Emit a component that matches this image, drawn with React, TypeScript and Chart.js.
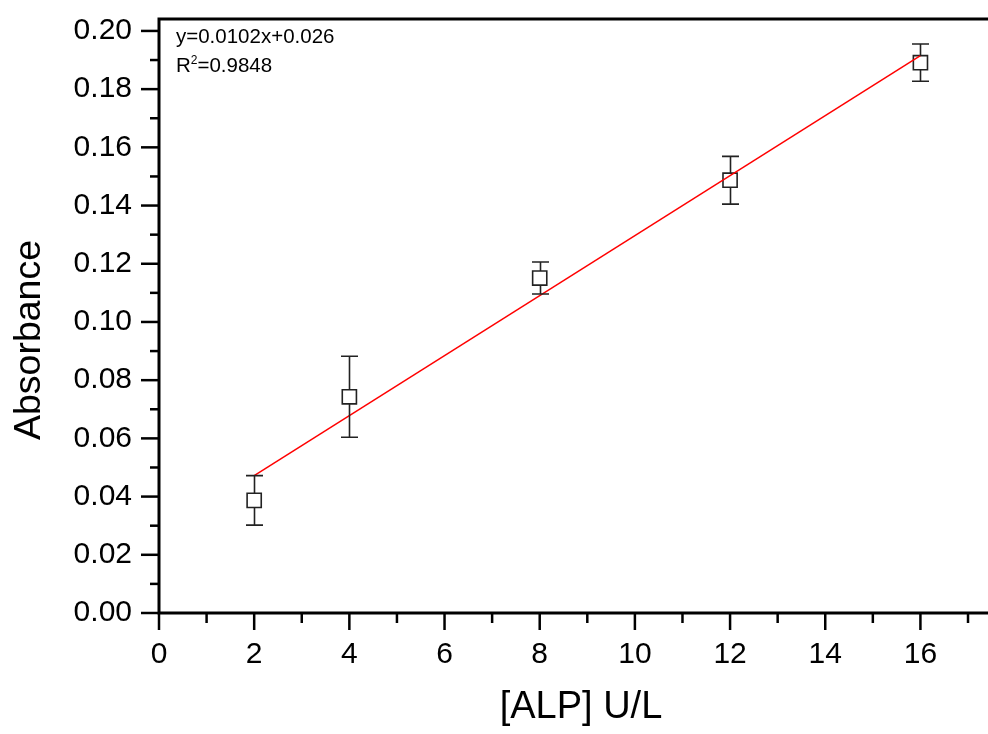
import React, { useEffect, useRef } from "react";
import { Chart, registerables } from "chart.js";

Chart.register(...registerables);

const concentrations = [2, 4, 8, 12, 16];
const absorbance = [0.0387, 0.0743, 0.1151, 0.1487, 0.1891];
const errors = [0.0085, 0.0139, 0.0055, 0.0082, 0.0064];
const fitX = [2, 16];
const fitY = [0.0472, 0.1915];
const equationText = "y=0.0102x+0.026";
const r2Value = "=0.9848";
const xTitle = "[ALP] U/L";
const yTitle = "Absorbance";

const FONT = "'Liberation Sans', Arial, Helvetica, sans-serif";

const decorPlugin = {
  id: "decor",
  afterDatasetsDraw(chart: any) {
    const ctx = chart.ctx;
    const xs = chart.scales.x;
    const ys = chart.scales.y;
    ctx.save();
    ctx.strokeStyle = "#222";
    ctx.lineWidth = 1.6;
    const half = 7;
    const cap = 8.5;
    for (let i = 0; i < concentrations.length; i++) {
      const px = Math.round(xs.getPixelForValue(concentrations[i])) + 0.5;
      const py = ys.getPixelForValue(absorbance[i]);
      const top = ys.getPixelForValue(absorbance[i] + errors[i]);
      const bot = ys.getPixelForValue(absorbance[i] - errors[i]);
      ctx.beginPath();
      ctx.moveTo(px, py - half);
      ctx.lineTo(px, top);
      ctx.moveTo(px - cap, top);
      ctx.lineTo(px + cap, top);
      ctx.moveTo(px, py + half);
      ctx.lineTo(px, bot);
      ctx.moveTo(px - cap, bot);
      ctx.lineTo(px + cap, bot);
      ctx.stroke();
    }
    ctx.restore();
  },
  afterDraw(chart: any) {
    const ctx = chart.ctx;
    const xs = chart.scales.x;
    const ys = chart.scales.y;
    const area = chart.chartArea;
    ctx.save();
    ctx.strokeStyle = "#000";
    ctx.lineCap = "butt";
    ctx.lineWidth = 3;
    ctx.beginPath();
    ctx.moveTo(area.left, area.top);
    ctx.lineTo(area.left, area.bottom);
    ctx.moveTo(area.left - 1.5, area.bottom);
    ctx.lineTo(area.right, area.bottom);
    ctx.moveTo(area.left - 1.5, area.top);
    ctx.lineTo(area.right, area.top);
    ctx.stroke();
    ctx.lineWidth = 2.5;
    for (let k = 0; k <= 20; k++) {
      const v = k * 0.01;
      const py = ys.getPixelForValue(v);
      const len = k % 2 === 0 ? 18 : 9;
      ctx.beginPath();
      ctx.moveTo(area.left, py);
      ctx.lineTo(area.left - len, py);
      ctx.stroke();
    }
    for (let k = 0; k <= 17; k++) {
      const px = xs.getPixelForValue(k);
      const len = k % 2 === 0 ? 17 : 10;
      ctx.beginPath();
      ctx.moveTo(px, area.bottom);
      ctx.lineTo(px, area.bottom + len);
      ctx.stroke();
    }
    ctx.fillStyle = "#000";
    ctx.textBaseline = "alphabetic";
    ctx.textAlign = "left";
    ctx.font = `20.5px ${FONT}`;
    const tx = area.left + 17;
    ctx.fillText(equationText, tx, area.top + 24);
    ctx.fillText("R", tx, area.top + 53);
    const rw = ctx.measureText("R").width;
    ctx.font = `12px ${FONT}`;
    ctx.fillText("2", tx + rw, area.top + 45);
    const sw = ctx.measureText("2").width;
    ctx.font = `20.5px ${FONT}`;
    ctx.fillText(r2Value, tx + rw + sw, area.top + 53);

    // axis titles
    ctx.textAlign = "center";
    ctx.textBaseline = "middle";
    ctx.font = `38px ${FONT}`;
    ctx.fillText(xTitle, 581, 708);
    ctx.save();
    ctx.translate(29.5, 340);
    ctx.rotate(-Math.PI / 2);
    ctx.font = `37.5px ${FONT}`;
    ctx.fillText(yTitle, 0, 0);
    ctx.restore();
    ctx.restore();
  },
};

export default function App() {
  const ref = useRef<HTMLCanvasElement>(null);
  useEffect(() => {
    if (!ref.current) return;
    const chart = new Chart(ref.current, {
      type: "scatter",
      data: {
        datasets: [
          {
            type: "line",
            data: fitX.map((x, i) => ({ x, y: fitY[i] })),
            borderColor: "#ff0000",
            borderWidth: 1.5,
            pointRadius: 0,
            fill: false,
          } as any,
          {
            data: concentrations.map((x, i) => ({ x, y: absorbance[i] })),
            pointStyle: "rect",
            pointRadius: 10,
            pointBorderWidth: 1.6,
            pointBorderColor: "#222",
            pointBackgroundColor: "rgba(0,0,0,0)",
          },
        ],
      },
      options: {
        animation: false,
        responsive: false,
        devicePixelRatio: 1,
        layout: { autoPadding: false, padding: { top: 19, right: 0, left: 0, bottom: 0 } },
        plugins: {
          legend: { display: false },
          tooltip: { enabled: false },
        },
        scales: {
          x: {
            type: "linear",
            min: 0,
            max: 17.42,
            afterFit: (s: any) => {
              s.height = 121;
              s.paddingLeft = 0;
              s.paddingRight = 0;
            },
            grid: { display: false, drawTicks: false },
            border: { display: false },
            ticks: {
              stepSize: 2,
              includeBounds: false,
              padding: 24,
              color: "#000",
              font: { family: FONT, size: 30 },
              maxRotation: 0,
              callback: (v: any) => String(Math.round(Number(v))),
            },
            title: { display: false },
          },
          y: {
            type: "linear",
            min: 0,
            max: 0.2041,
            afterFit: (s: any) => {
              s.width = 159;
              s.paddingTop = 0;
              s.paddingBottom = 0;
            },
            grid: { display: false, drawTicks: false },
            border: { display: false },
            ticks: {
              stepSize: 0.02,
              includeBounds: false,
              padding: 27,
              color: "#000",
              font: { family: FONT, size: 30 },
              callback: (v: any) => Number(v).toFixed(2),
            },
            title: { display: false },
          },
        },
      },
      plugins: [decorPlugin],
    });
    return () => chart.destroy();
  }, []);
  return (
    <div style={{ position: "fixed", left: 0, top: 0, width: 988, height: 734, background: "#fff" }}>
      <canvas ref={ref} width={988} height={734} style={{ display: "block" }} />
    </div>
  );
}
